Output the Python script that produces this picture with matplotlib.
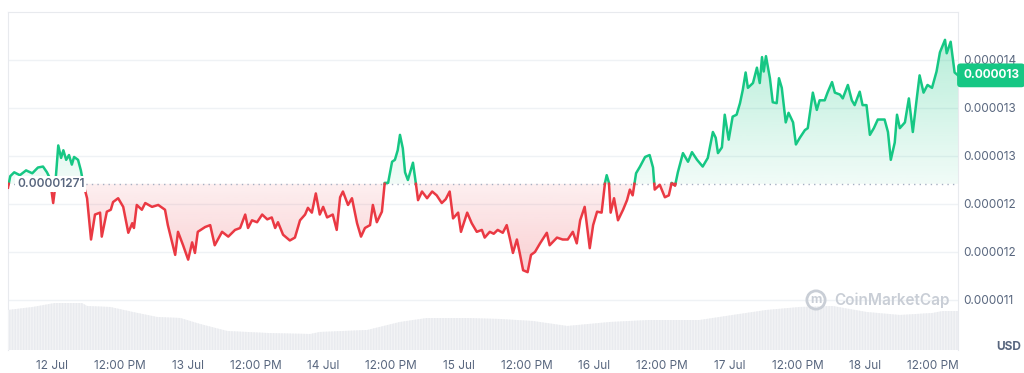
import numpy as np
import matplotlib
matplotlib.use("Agg")
import matplotlib.pyplot as plt
from matplotlib.path import Path

plt.rcParams['font.family'] = ['Inter', 'DejaVu Sans']

# hours since 12 Jul 00:00, price in micro-USD
hours = [-7.8, -7.4, -6.7, -5.7, -4.6, -3.5, -2.5, -1.6, -0.9, -0.4, 0.2, 0.5, 1.1, 1.6, 2.0, 2.5, 3.0, 3.5, 3.9, 4.6,
         5.1, 5.5, 6.2, 6.9, 7.6, 8.5, 8.8, 9.7, 10.4, 10.8, 11.7, 12.6, 13.5, 14.2, 14.5, 15.0, 15.9, 16.5, 17.7, 18.8,
         20.0, 20.5, 21.8, 22.3, 23.2, 24.1, 24.8, 25.3, 25.8, 27.1, 28.0, 28.8, 30.1, 31.2, 32.4, 33.3, 34.2, 34.7, 35.4, 36.3,
         37.2, 38.1, 38.9, 39.5, 40.0, 40.9, 42.1, 43.0, 43.9, 44.8, 45.3, 46.0, 46.7, 47.4, 48.0, 48.7, 49.7, 50.4, 51.0, 51.5,
         52.4, 53.1, 54.0, 54.7, 55.4, 56.3, 56.8, 57.5, 58.4, 58.9, 59.5, 60.2, 60.7, 61.2, 61.6, 62.1, 62.5, 63.0, 63.9, 64.4,
         64.8, 65.5, 66.4, 67.3, 68.1, 69.0, 69.7, 70.4, 71.0, 71.9, 72.4, 73.5, 74.3, 75.2, 76.1, 76.6, 77.5, 78.2, 78.9, 79.8,
         80.5, 81.1, 81.6, 82.3, 82.8, 83.4, 84.2, 84.8, 85.5, 86.4, 87.6, 88.1, 89.4, 90.4, 91.3, 92.2, 92.9, 93.5, 94.3, 95.2,
         95.8, 96.5, 97.3, 97.9, 98.2, 98.6, 98.9, 99.5, 100.2, 101.1, 101.8, 102.3, 102.8, 103.4, 104.1, 105.0, 105.8, 106.4, 106.7, 107.6,
         108.5, 109.2, 109.7, 110.3, 110.8, 111.7, 112.6, 113.3, 114.2, 115.2, 116.1, 117.0, 117.5, 117.9, 118.6, 119.1, 119.8, 120.5, 121.2, 121.8,
         122.3, 122.8, 123.2, 124.1, 124.8, 125.3, 125.7, 126.0, 126.4, 127.1, 127.6, 128.3, 128.7, 129.2, 129.9, 130.4, 131.2, 131.7, 132.4, 133.3,
         133.8, 134.3, 134.7, 135.4, 135.9, 136.8, 137.3, 138.1, 138.6, 139.5, 140.0, 140.9, 141.6, 142.1, 143.0, 143.5, 144.2, 144.8, 145.5, 146.2,
         147.4, 148.0, 148.5, 149.2, 149.6, 150.1, 151.0, 151.7, 152.4, 153.1, 153.6, 154.3, 155.0, 155.8, 156.6, 157.2, 158.1, 158.4, 159.1, 159.8, 160.4]
price = [12.67, 12.79, 12.83, 12.80, 12.85, 12.82, 12.88, 12.89, 12.83, 12.77, 12.51, 12.65, 13.11, 12.98, 13.06, 12.96, 13.01, 12.91, 12.99, 12.96,
         12.85, 12.72, 12.56, 12.13, 12.39, 12.41, 12.16, 12.42, 12.44, 12.52, 12.56, 12.47, 12.20, 12.30, 12.25, 12.49, 12.44, 12.51, 12.47, 12.49,
         12.44, 12.28, 11.97, 12.21, 12.07, 11.92, 12.10, 11.99, 12.21, 12.26, 12.28, 12.07, 12.21, 12.16, 12.23, 12.25, 12.39, 12.25, 12.33, 12.31,
         12.39, 12.34, 12.36, 12.25, 12.31, 12.18, 12.12, 12.15, 12.33, 12.39, 12.46, 12.41, 12.61, 12.39, 12.47, 12.36, 12.39, 12.23, 12.57, 12.63,
         12.49, 12.56, 12.30, 12.16, 12.25, 12.28, 12.49, 12.31, 12.42, 12.72, 12.72, 12.94, 12.96, 13.06, 13.22, 13.08, 12.83, 12.75, 12.93, 12.72,
         12.54, 12.63, 12.56, 12.63, 12.59, 12.51, 12.55, 12.63, 12.35, 12.41, 12.21, 12.41, 12.30, 12.21, 12.23, 12.15, 12.21, 12.19, 12.23, 12.20,
         12.28, 12.13, 11.99, 12.13, 11.99, 11.81, 11.79, 11.97, 12.00, 12.09, 12.20, 12.07, 12.15, 12.13, 12.13, 12.21, 12.09, 12.33, 12.47, 12.04,
         12.28, 12.42, 12.41, 12.72, 12.80, 12.72, 12.41, 12.56, 12.33, 12.44, 12.54, 12.65, 12.59, 12.82, 12.89, 12.99, 13.01, 12.88, 12.65, 12.70,
         12.57, 12.59, 12.72, 12.69, 12.83, 13.03, 12.94, 13.04, 12.96, 12.89, 12.98, 13.25, 13.19, 13.03, 13.09, 13.43, 13.17, 13.41, 13.43, 13.55,
         13.69, 13.87, 13.71, 13.76, 13.92, 13.76, 14.03, 13.88, 14.04, 13.81, 13.56, 13.55, 13.81, 13.71, 13.35, 13.45, 13.35, 13.12, 13.19, 13.27,
         13.29, 13.50, 13.66, 13.48, 13.58, 13.58, 13.66, 13.77, 13.66, 13.64, 13.60, 13.74, 13.58, 13.53, 13.67, 13.53, 13.53, 13.22, 13.29, 13.38,
         13.38, 13.25, 12.96, 13.14, 13.43, 13.29, 13.35, 13.60, 13.25, 13.60, 13.84, 13.66, 13.74, 13.71, 13.88, 14.08, 14.21, 14.07, 14.19, 13.87, 13.84]
ref_price = 12.71

vol_hours = [-7.8, -3.4, 0.5, 5.3, 6.2, 10.3, 14.3, 18.6, 22.7, 26.2, 31.0, 38.1, 45.7, 47.4, 55.8, 61.6, 66.4,
             73.5, 79.3, 85.1, 91.2, 98.8, 105.8, 114.7, 120.5, 126.5, 132.4, 138.2, 144.2, 150.1, 155.9, 157.7, 160.4]
volume = [4.0, 4.3, 4.7, 4.7, 4.4, 4.3, 3.8, 3.3, 3.2, 2.6, 1.9, 1.7, 1.6, 1.8, 2.0, 2.8, 3.2,
          3.2, 3.1, 2.9, 2.4, 2.8, 3.0, 3.0, 3.5, 4.0, 4.3, 4.4, 3.8, 3.5, 3.7, 3.9, 3.9]

xtick_pos = [0, 12, 24, 36, 48, 60, 72, 84, 96, 108, 120, 132, 144, 156]
xtick_lab = ["12 Jul", "12:00 PM", "13 Jul", "12:00 PM", "14 Jul", "12:00 PM", "15 Jul", "12:00 PM",
             "16 Jul", "12:00 PM", "17 Jul", "12:00 PM", "18 Jul", "12:00 PM"]
ytick_pos = [14.0, 13.5, 13.0, 12.5, 12.0, 11.5]
ytick_lab = ["0.000014", "0.000013", "0.000013", "0.000012", "0.000012", "0.000011"]

GREEN, RED, GREY = "#16c784", "#ea3943", "#58667e"
XL, YL = (-7.8, 160.4), (10.979, 14.5)

fig = plt.figure(figsize=(10.24, 3.73), dpi=100)
ax = fig.add_axes([8/1024, 1-350/373, 950/1024, 338/373])

# volume underlay on a twin axis (twinx resets tick side, so set ticks after)
ax2 = ax.twinx()
ax2.fill_between(vol_hours, volume, 0, facecolor="#f2f3f5", edgecolor="#e9ebef", hatch="||||||", lw=0, zorder=0)
ax2.set_ylim(0, 33.8); ax2.set_xlim(*XL)
ax2.set_yticks([])
for s in ax2.spines.values():
    s.set_visible(False)

# insert crossing points so the line can switch colour exactly at the reference
h, v = [hours[0]], [price[0]]
for i in range(1, len(price)):
    a, b = price[i-1], price[i]
    if (a - ref_price) * (b - ref_price) < 0:
        t = (ref_price - a) / (b - a)
        h.append(hours[i-1] + t * (hours[i] - hours[i-1])); v.append(ref_price)
    h.append(hours[i]); v.append(b)
h, v = np.array(h), np.array(v)

def gradient_fill(mask, color, lo, hi, a_lo, a_hi):
    coll = ax.fill_between(h, v, ref_price, where=mask, interpolate=True)
    clip = Path.make_compound_path(*coll.get_paths())
    coll.remove()
    rgba = np.zeros((256, 1, 4))
    rgba[..., :3] = matplotlib.colors.to_rgb(color)
    rgba[:, 0, 3] = np.linspace(a_lo, a_hi, 256)
    im = ax.imshow(rgba, extent=[XL[0], XL[1], lo, hi], origin="lower", aspect="auto", zorder=1)
    im.set_clip_path(clip, ax.transData)

gradient_fill(v >= ref_price, GREEN, ref_price, 14.3, 0.06, 0.32)
gradient_fill(v <= ref_price, RED, 11.75, ref_price, 0.25, 0.08)

ax.axhline(ref_price, color="#a6b0c3", lw=1, ls=(0, (1, 3)), zorder=2)
ax.plot(h, np.where(v >= ref_price, v, np.nan), color=GREEN, lw=1.8, zorder=3, solid_joinstyle="round")
ax.plot(h, np.where(v <= ref_price, v, np.nan), color=RED, lw=1.8, zorder=3, solid_joinstyle="round")

ax.text(-6.2, ref_price, "0.00001271", color=GREY, fontsize=8.5, fontweight="semibold", va="center", ha="left",
        zorder=5, bbox=dict(boxstyle="square,pad=0.15", fc="white", ec="none"))

ax.set_xlim(*XL); ax.set_ylim(*YL)
ax.set_xticks(xtick_pos, xtick_lab)
ax.set_yticks(ytick_pos, ytick_lab)
ax.yaxis.tick_right()
ax.tick_params(length=0, labelsize=8.5, labelcolor=GREY)
ax.tick_params(axis="x", pad=7)
ax.tick_params(axis="y", pad=4)
ax.grid(axis="y", color="#eff2f5", lw=1)
ax.set_axisbelow(True)
for s in ["left", "top", "right"]:
    ax.spines[s].set_color("#e8eaee")
ax.spines["bottom"].set_visible(False)

ax.annotate("0.000013", xy=(1, price[-1]), xycoords=("axes fraction", "data"), xytext=(5, 0),
            textcoords="offset pixels", ha="left", va="center", color="white", fontsize=8.5, fontweight="bold",
            bbox=dict(boxstyle="round,pad=0.5,rounding_size=0.3", fc=GREEN, ec="none"), annotation_clip=False, zorder=6)

# watermark
fig.text(816/1024, 1-300/373, "m", color="#c9ced6", fontsize=9, fontweight="bold", ha="center", va="center",
         bbox=dict(boxstyle="circle,pad=0.25", fc="none", ec="#c9ced6", lw=2))
fig.text(834/1024, 1-300/373, "CoinMarketCap", color="#c9ced6", fontsize=11, fontweight="semibold", va="center")

fig.text(1021/1024, 1-347/373, "USD", color=GREY, fontsize=8.5, fontweight="bold", va="center", ha="right")

fig.savefig("out.png", dpi=100)
